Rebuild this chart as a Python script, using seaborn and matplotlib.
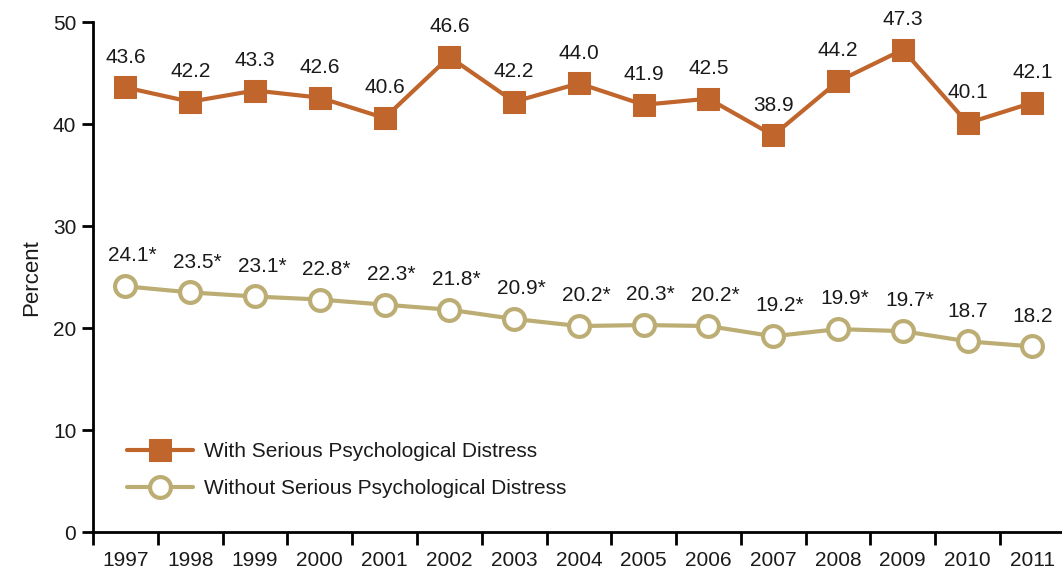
import numpy as np
import pandas as pd
import matplotlib
matplotlib.use("Agg")
import matplotlib.pyplot as plt
import seaborn as sns

# data
years = [1997, 1998, 1999, 2000, 2001, 2002, 2003, 2004, 2005, 2006, 2007, 2008, 2009, 2010, 2011]
with_spd = [43.6, 42.2, 43.3, 42.6, 40.6, 46.6, 42.2, 44.0, 41.9, 42.5, 38.9, 44.2, 47.3, 40.1, 42.1]
without_spd = [24.1, 23.5, 23.1, 22.8, 22.3, 21.8, 20.9, 20.2, 20.3, 20.2, 19.2, 19.9, 19.7, 18.7, 18.2]
without_sig = [True] * 13 + [False, False]

series_names = ["With Serious Psychological Distress", "Without Serious Psychological Distress"]

sns.set_style("ticks")
plt.rcParams['font.family'] = ['Liberation Sans Narrow', 'Liberation Sans', 'DejaVu Sans']

ORANGE = "#c0652c"
TAN = "#bcad74"
TXT = "#1a1a1a"

idx = np.arange(len(years))
df = pd.DataFrame({"idx": idx, "with": with_spd, "without": without_spd})

fig = plt.figure(figsize=(10.62, 5.84), dpi=100)
ax = fig.add_axes([0.0876, 0.089, 0.915, 0.873])

sns.lineplot(data=df, x="idx", y="with", ax=ax, color=ORANGE, lw=3, marker="s",
             markersize=16, markeredgecolor=ORANGE, markerfacecolor=ORANGE,
             label=series_names[0], clip_on=False)
sns.lineplot(data=df, x="idx", y="without", ax=ax, color=TAN, lw=3, marker="o",
             markersize=15, markeredgecolor=TAN, markerfacecolor="white",
             markeredgewidth=3, label=series_names[1], clip_on=False)

# value labels above each point
for i, v in enumerate(with_spd):
    ax.annotate(f"{v:.1f}", (i, v), xytext=(0, 15), textcoords="offset points",
                ha="center", va="bottom", fontsize=15, color=TXT,
                annotation_clip=False)
for i, v in enumerate(without_spd):
    txt = f"{v:.1f}" + ("*" if without_sig[i] else "")
    ax.annotate(txt, (i, v), xytext=(5 if without_sig[i] else 0, 15), textcoords="offset points",
                ha="center", va="bottom", fontsize=15, color=TXT,
                annotation_clip=False)

ax.set_xlim(-0.5, len(years) - 0.5)
ax.set_ylim(0, 50)
ax.set_yticks([0, 10, 20, 30, 40, 50])
# tick marks between years, labels under the years
ax.set_xticks(np.arange(-0.5, len(years), 1.0))
ax.set_xticklabels([])
ax.set_xticks(idx, minor=True)
ax.set_xticklabels([str(y) for y in years], minor=True)
ax.tick_params(axis="x", which="major", direction="out", length=9, width=2, color="black")
ax.tick_params(axis="x", which="minor", length=0, pad=14, labelsize=15, labelcolor=TXT)
ax.tick_params(axis="y", direction="out", length=8, width=2, color="black", labelsize=15,
               labelcolor=TXT, pad=4)

for s in ["top", "right"]:
    ax.spines[s].set_visible(False)
for s in ["left", "bottom"]:
    ax.spines[s].set_linewidth(2)
    ax.spines[s].set_color("black")

ax.set_xlabel("")
ax.set_ylabel("Percent", fontsize=16, labelpad=8, color=TXT)

leg = ax.legend(loc="lower left", bbox_to_anchor=(0.026, 0.05), frameon=False, fontsize=15,
                handlelength=3.2, labelspacing=0.85, handletextpad=0.5, borderaxespad=0)
for t in leg.get_texts():
    t.set_color(TXT)

fig.savefig("out.png", dpi=100)
